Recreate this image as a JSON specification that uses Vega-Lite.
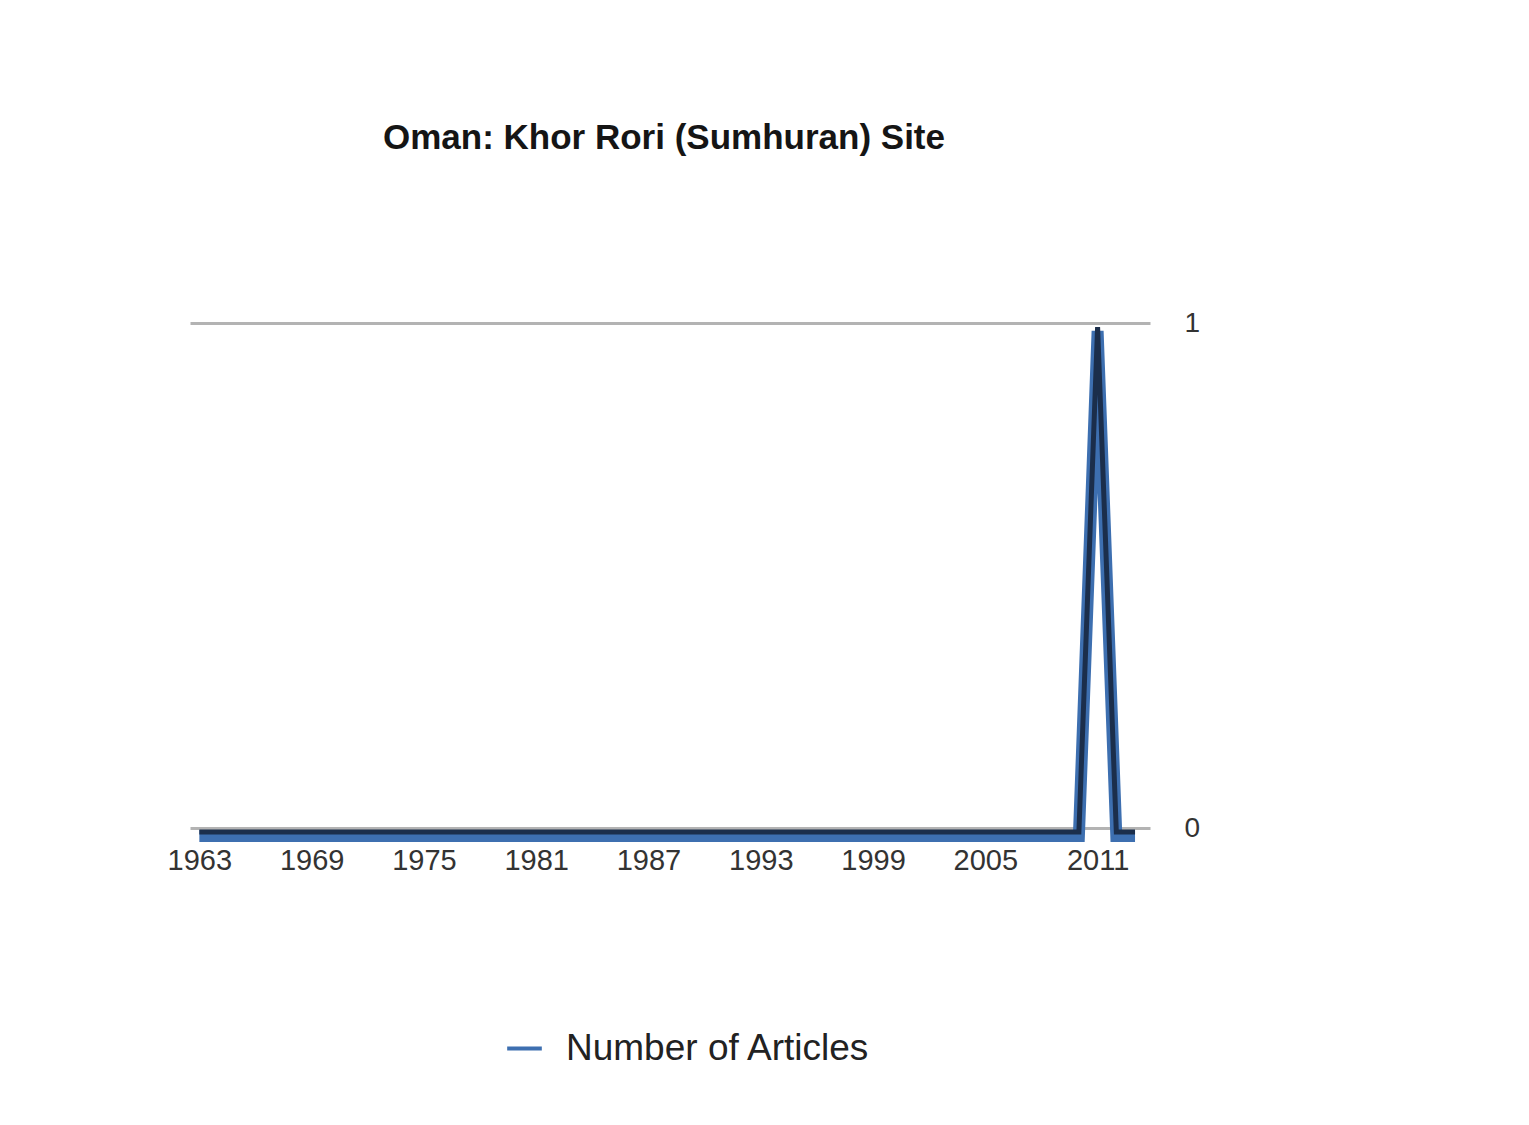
{
  "$schema": "https://vega.github.io/schema/vega-lite/v6.json",
  "autosize": "none",
  "width": 960,
  "height": 505,
  "padding": {"left": 190, "top": 323, "right": 379, "bottom": 297},
  "background": "#ffffff",
  "config": {
    "view": {"stroke": null},
    "font": "Liberation Sans"
  },
  "title": {
    "text": "Oman: Khor Rori (Sumhuran) Site",
    "fontSize": 35,
    "fontWeight": "bold",
    "font": "Liberation Sans",
    "color": "#151515",
    "anchor": "middle",
    "offset": 151,
    "dx": -6
  },
  "data": {
    "values": [
      {"year": 1963, "articles": 0, "series": "Number of Articles"},
      {"year": 1964, "articles": 0, "series": "Number of Articles"},
      {"year": 1965, "articles": 0, "series": "Number of Articles"},
      {"year": 1966, "articles": 0, "series": "Number of Articles"},
      {"year": 1967, "articles": 0, "series": "Number of Articles"},
      {"year": 1968, "articles": 0, "series": "Number of Articles"},
      {"year": 1969, "articles": 0, "series": "Number of Articles"},
      {"year": 1970, "articles": 0, "series": "Number of Articles"},
      {"year": 1971, "articles": 0, "series": "Number of Articles"},
      {"year": 1972, "articles": 0, "series": "Number of Articles"},
      {"year": 1973, "articles": 0, "series": "Number of Articles"},
      {"year": 1974, "articles": 0, "series": "Number of Articles"},
      {"year": 1975, "articles": 0, "series": "Number of Articles"},
      {"year": 1976, "articles": 0, "series": "Number of Articles"},
      {"year": 1977, "articles": 0, "series": "Number of Articles"},
      {"year": 1978, "articles": 0, "series": "Number of Articles"},
      {"year": 1979, "articles": 0, "series": "Number of Articles"},
      {"year": 1980, "articles": 0, "series": "Number of Articles"},
      {"year": 1981, "articles": 0, "series": "Number of Articles"},
      {"year": 1982, "articles": 0, "series": "Number of Articles"},
      {"year": 1983, "articles": 0, "series": "Number of Articles"},
      {"year": 1984, "articles": 0, "series": "Number of Articles"},
      {"year": 1985, "articles": 0, "series": "Number of Articles"},
      {"year": 1986, "articles": 0, "series": "Number of Articles"},
      {"year": 1987, "articles": 0, "series": "Number of Articles"},
      {"year": 1988, "articles": 0, "series": "Number of Articles"},
      {"year": 1989, "articles": 0, "series": "Number of Articles"},
      {"year": 1990, "articles": 0, "series": "Number of Articles"},
      {"year": 1991, "articles": 0, "series": "Number of Articles"},
      {"year": 1992, "articles": 0, "series": "Number of Articles"},
      {"year": 1993, "articles": 0, "series": "Number of Articles"},
      {"year": 1994, "articles": 0, "series": "Number of Articles"},
      {"year": 1995, "articles": 0, "series": "Number of Articles"},
      {"year": 1996, "articles": 0, "series": "Number of Articles"},
      {"year": 1997, "articles": 0, "series": "Number of Articles"},
      {"year": 1998, "articles": 0, "series": "Number of Articles"},
      {"year": 1999, "articles": 0, "series": "Number of Articles"},
      {"year": 2000, "articles": 0, "series": "Number of Articles"},
      {"year": 2001, "articles": 0, "series": "Number of Articles"},
      {"year": 2002, "articles": 0, "series": "Number of Articles"},
      {"year": 2003, "articles": 0, "series": "Number of Articles"},
      {"year": 2004, "articles": 0, "series": "Number of Articles"},
      {"year": 2005, "articles": 0, "series": "Number of Articles"},
      {"year": 2006, "articles": 0, "series": "Number of Articles"},
      {"year": 2007, "articles": 0, "series": "Number of Articles"},
      {"year": 2008, "articles": 0, "series": "Number of Articles"},
      {"year": 2009, "articles": 0, "series": "Number of Articles"},
      {"year": 2010, "articles": 0, "series": "Number of Articles"},
      {"year": 2011, "articles": 1, "series": "Number of Articles"},
      {"year": 2012, "articles": 0, "series": "Number of Articles"},
      {"year": 2013, "articles": 0, "series": "Number of Articles"}
    ]
  },
  "encoding": {
    "x": {
      "field": "year",
      "type": "quantitative",
      "scale": {"domain": [1962.5, 2013.8], "nice": false, "zero": false},
      "axis": {
        "title": null,
        "values": [1963, 1969, 1975, 1981, 1987, 1993, 1999, 2005, 2011],
        "format": "d",
        "grid": false,
        "domain": false,
        "ticks": false,
        "labelFontSize": 29,
        "labelColor": "#333333",
        "labelPadding": 18,
        "labelFont": "Liberation Sans"
      }
    },
    "y": {
      "field": "articles",
      "type": "quantitative",
      "scale": {"domain": [0, 1], "nice": false},
      "axis": {
        "orient": "right",
        "title": null,
        "values": [0, 1],
        "format": "d",
        "grid": true,
        "gridColor": "#b3b3b3",
        "gridWidth": 3,
        "domain": false,
        "ticks": false,
        "labelFontSize": 28,
        "labelColor": "#333333",
        "labelPadding": 34,
        "labelFont": "Liberation Sans"
      }
    }
  },
  "layer": [
    {
      "mark": {"type": "line", "strokeWidth": 12, "strokeJoin": "miter", "yOffset": 8},
      "encoding": {
        "color": {
          "field": "series",
          "type": "nominal",
          "scale": {"range": ["#3d6fb0"]},
          "legend": {
            "title": null,
            "orient": "none",
            "legendX": 315,
            "legendY": 706,
            "symbolType": "stroke",
            "symbolSize": 1200,
            "symbolStrokeWidth": 4,
            "labelFontSize": 37,
            "labelLimit": 0,
            "labelColor": "#222222",
            "labelFont": "Liberation Sans",
            "labelOffset": 22
          }
        }
      }
    },
    {
      "mark": {"type": "line", "strokeWidth": 5, "color": "#1b2e4b", "strokeJoin": "miter", "yOffset": 4},
      "encoding": {}
    }
  ]
}
